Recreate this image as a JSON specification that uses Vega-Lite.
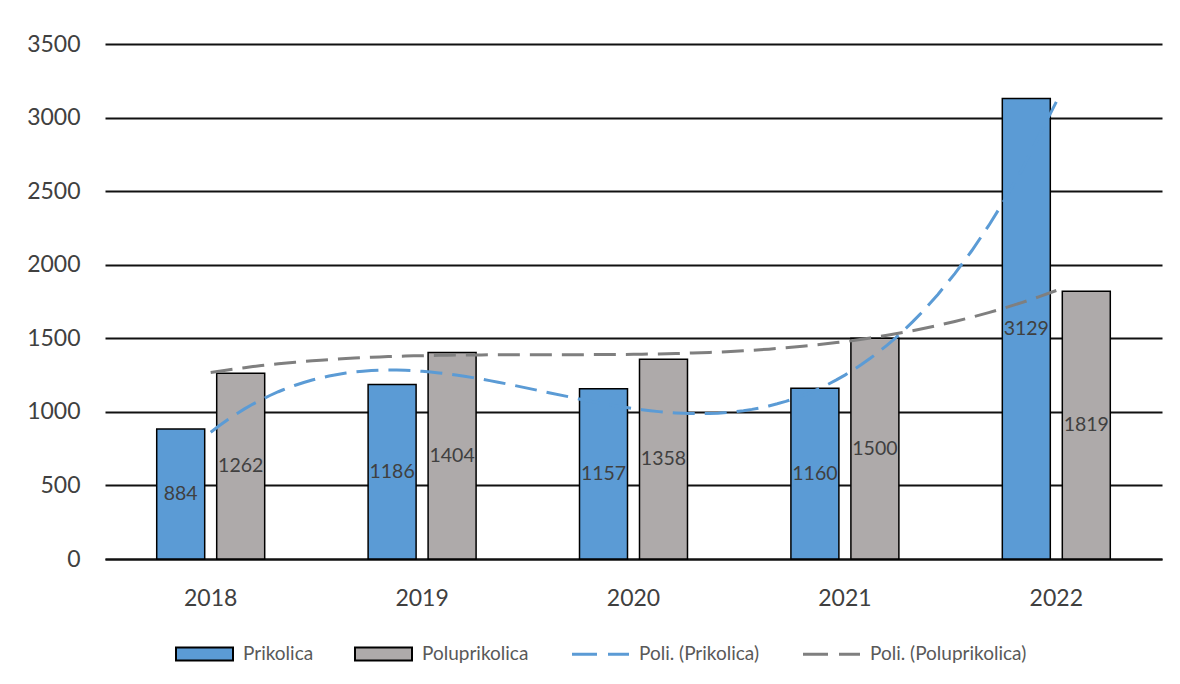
{
  "$schema": "https://vega.github.io/schema/vega-lite/v6.json",
  "width": 1057,
  "height": 515,
  "autosize": {"type": "none"},
  "padding": {"left": 105, "top": 44, "right": 18, "bottom": 125},
  "background": "white",
  "config": {"view": {"stroke": null}, "font": "Lato"},
  "data": {
    "values": [
      {"year": 2018, "series": "Prikolica", "trend": "Poli. (Prikolica)", "value": 884},
      {"year": 2018, "series": "Poluprikolica", "trend": "Poli. (Poluprikolica)", "value": 1262},
      {"year": 2019, "series": "Prikolica", "trend": "Poli. (Prikolica)", "value": 1186},
      {"year": 2019, "series": "Poluprikolica", "trend": "Poli. (Poluprikolica)", "value": 1404},
      {"year": 2020, "series": "Prikolica", "trend": "Poli. (Prikolica)", "value": 1157},
      {"year": 2020, "series": "Poluprikolica", "trend": "Poli. (Poluprikolica)", "value": 1358},
      {"year": 2021, "series": "Prikolica", "trend": "Poli. (Prikolica)", "value": 1160},
      {"year": 2021, "series": "Poluprikolica", "trend": "Poli. (Poluprikolica)", "value": 1500},
      {"year": 2022, "series": "Prikolica", "trend": "Poli. (Prikolica)", "value": 3129},
      {"year": 2022, "series": "Poluprikolica", "trend": "Poli. (Poluprikolica)", "value": 1819}
    ]
  },
  "layer": [
    {
      "mark": {"type": "bar", "stroke": "#000000", "strokeWidth": 1.5},
      "encoding": {
        "x": {
          "field": "year", "type": "ordinal",
          "scale": {"paddingInner": 0, "paddingOuter": 0},
          "axis": {"title": null, "labelAngle": 0, "labelFontSize": 23, "labelColor": "#404040", "labelFont": "Lato", "labelPadding": 28, "ticks": false, "domain": true, "domainColor": "#111111", "domainWidth": 2, "grid": false}
        },
        "xOffset": {
          "field": "series", "type": "nominal",
          "scale": {"domain": ["Prikolica", "Poluprikolica"], "paddingInner": 0.2, "paddingOuter": 0.862}
        },
        "y": {
          "field": "value", "type": "quantitative",
          "scale": {"domain": [0, 3500], "nice": false},
          "axis": {"title": null, "values": [0, 500, 1000, 1500, 2000, 2500, 3000, 3500], "format": "d", "labelFontSize": 23, "labelColor": "#404040", "labelFont": "Lato", "ticks": false, "domain": false, "grid": true, "gridColor": "#111111", "gridWidth": 2, "labelPadding": 25}
        },
        "color": {
          "field": "series", "type": "nominal",
          "scale": {
            "domain": ["Prikolica", "Poluprikolica", "Poli. (Prikolica)", "Poli. (Poluprikolica)"],
            "range": ["#5B9BD5", "#AEAAAA", "#5B9BD5", "#7F7F7F"]
          },
          "legend": {
            "title": null,
            "orient": "none",
            "legendX": 90,
            "legendY": 600,
            "direction": "horizontal",
            "columns": 4,
            "symbolSize": 3249,
            "labelFontSize": 19,
            "labelFont": "Lato",
            "labelColor": "#595959",
            "labelOffset": 29,
            "columnPadding": 37,
            "encoding": {
              "symbols": {
                "shape": {"value": {"expr": "datum.value == 'Prikolica' || datum.value == 'Poluprikolica' ? 'M-1,-0.23H1V0.23H-1Z' : 'M-1,0H1'"}},
                "stroke": {"value": {"expr": "datum.value == 'Poli. (Prikolica)' ? '#5B9BD5' : datum.value == 'Poli. (Poluprikolica)' ? '#7F7F7F' : 'black'"}},
                "strokeWidth": {"value": {"expr": "datum.value == 'Prikolica' || datum.value == 'Poluprikolica' ? 2 : 3"}},
                "strokeDash": {"value": {"expr": "datum.value == 'Prikolica' || datum.value == 'Poluprikolica' ? null : [25, 11]"}},
                "strokeOpacity": {"value": 1},
                "opacity": {"value": 1}
              }
            }
          }
        }
      }
    },
    {
      "mark": {"type": "text", "font": "Lato", "fontSize": 19.5, "color": "#404040", "baseline": "middle", "align": "center"},
      "encoding": {
        "x": {"field": "year", "type": "ordinal", "scale": {"paddingInner": 0, "paddingOuter": 0}, "axis": null},
        "xOffset": {"field": "series", "type": "nominal", "scale": {"domain": ["Prikolica", "Poluprikolica"], "paddingInner": 0.2, "paddingOuter": 0.862}},
        "y": {"field": "value", "type": "quantitative", "scale": {"domain": [0, 7000], "nice": false}, "axis": null},
        "text": {"field": "value", "type": "quantitative", "format": "d"}
      }
    },
    {
      "transform": [
        {"regression": "value", "on": "year", "groupby": ["trend"], "method": "poly", "order": 3}
      ],
      "mark": {"type": "line", "strokeDash": [22, 10], "strokeWidth": 3},
      "encoding": {
        "x": {"field": "year", "type": "quantitative", "scale": {"domain": [2017.5, 2022.5], "nice": false, "zero": false}, "axis": null},
        "y": {"field": "value", "type": "quantitative", "scale": {"domain": [0, 3500], "nice": false}, "axis": null},
        "color": {
          "field": "trend", "type": "nominal",
          "scale": {"domain": ["Poli. (Prikolica)", "Poli. (Poluprikolica)"], "range": ["#5B9BD5", "#7F7F7F"]},
          "legend": null
        }
      }
    }
  ],
  "resolve": {"scale": {"x": "independent", "y": "independent", "color": "independent"}}
}
